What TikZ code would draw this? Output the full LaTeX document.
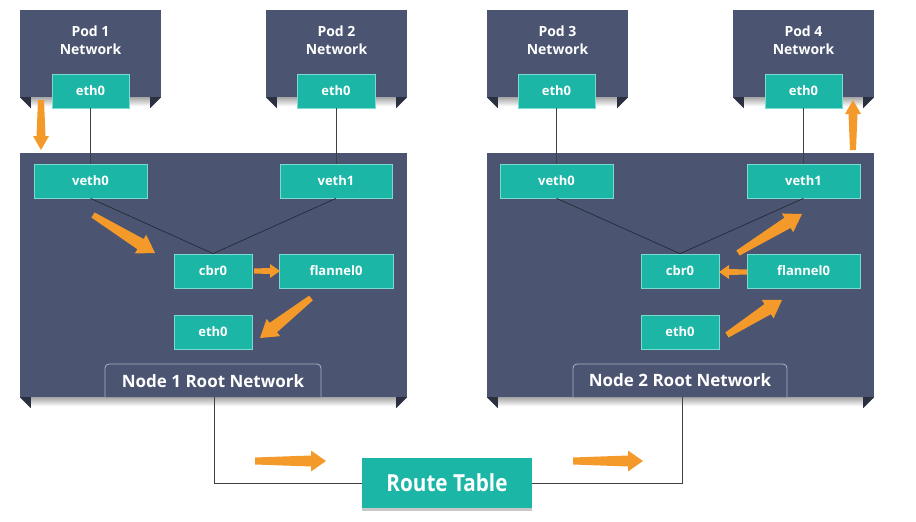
\documentclass[tikz,border=0pt]{standalone}
\usepackage{fontspec}
\setmainfont{Open Sans}
\newfontfamily\rtfont[FakeStretch=0.88]{Open Sans}
\usetikzlibrary{arrows.meta,calc}
\definecolor{slate}{HTML}{4B5470}
\definecolor{folddark}{HTML}{2B3040}
\definecolor{tealbox}{HTML}{1BB6A6}
\definecolor{tealedge}{HTML}{7ADCD0}
\definecolor{orng}{HTML}{F39A2B}
\definecolor{lbledge}{HTML}{AEB5C4}
\definecolor{wirecol}{HTML}{262B38}
\tikzset{
  panel/.style={fill=slate, draw=none, inner sep=0pt},
  iface/.style={fill=tealbox, draw=tealedge, line width=0.7pt, text=white,
    font=\bfseries\fontsize{13}{15}\selectfont, inner sep=0pt, minimum height=34pt},
  podtxt/.style={text=white, font=\bfseries\fontsize{14}{18}\selectfont, align=center},
  lbltxt/.style={text=white, font=\bfseries\fontsize{17}{19}\selectfont},
  wire/.style={draw=wirecol, line width=0.7pt},
  outwire/.style={draw=black!75, line width=0.9pt},
}
\newcommand\fatarrow[6]{%
  \coordinate (fa-c) at ($(#2)!#6!(#1)$);
  \fill[orng] ($(#1)!#3!90:(#2)$) -- ($(fa-c)!#4!90:(#2)$) -- ($(fa-c)!#5!90:(#2)$)
    -- (#2) -- ($(fa-c)!#5!-90:(#2)$) -- ($(fa-c)!#4!-90:(#2)$) -- ($(#1)!#3!-90:(#2)$) -- cycle;
}
\newcommand\folds[1]{%
  \shade[top color=black!35, bottom color=white] ([xshift=11pt]#1.south west) rectangle ([xshift=-11pt,yshift=-9pt]#1.south east);
  \fill[folddark] (#1.south west) -- ++(11,0) -- ++(0,11) -- cycle;
  \fill[folddark] (#1.south east) -- ++(-11,0) -- ++(0,11) -- cycle;
}
\begin{document}
\begin{tikzpicture}[x=1pt,y=-1pt]
\useasboundingbox[fill=white] (0,0) rectangle (916,522);

% ---- panels ----
\node[panel, minimum width=141pt, minimum height=87pt] (pod1) at (90.5,53.5) {};
\node[panel, minimum width=141pt, minimum height=87pt] (pod2) at (336.5,53.5) {};
\node[panel, minimum width=141pt, minimum height=87pt] (pod3) at (557.5,53.5) {};
\node[panel, minimum width=141pt, minimum height=87pt] (pod4) at (803.5,53.5) {};
\node[panel, minimum width=387pt, minimum height=244pt] (node1) at (213.5,275) {};
\node[panel, minimum width=387pt, minimum height=244pt] (node2) at (680.5,275) {};
\folds{pod1}\folds{pod2}\folds{pod3}\folds{pod4}\folds{node1}\folds{node2}

\node[podtxt] (pod1t) at (90.5,40) {Pod 1\\Network};
\node[podtxt] (pod2t) at (336.5,40) {Pod 2\\Network};
\node[podtxt] (pod3t) at (557.5,40) {Pod 3\\Network};
\node[podtxt] (pod4t) at (803.5,40) {Pod 4\\Network};

% ---- root network labels ----
\draw[lbledge, line width=0.8pt, fill=slate, rounded corners=4pt]
  (105,397) -- (105,364) -- (321,364) -- (321,397);
\draw[lbledge, line width=0.8pt, fill=slate, rounded corners=4pt]
  (573,397) -- (573,364) -- (787,364) -- (787,397);
\node[lbltxt] (n1lbl) at (213,381) {Node 1 Root Network};
\node[lbltxt] (n2lbl) at (680,380) {Node 2 Root Network};

% ---- interfaces ----
\node[iface, minimum width=77pt] (p1eth) at (90.5,91) {eth0};
\node[iface, minimum width=78pt] (p2eth) at (336,91) {eth0};
\node[iface, minimum width=77pt] (p3eth) at (556.5,91) {eth0};
\node[iface, minimum width=77pt] (p4eth) at (803.5,91) {eth0};

\node[iface, minimum width=113pt] (aveth0) at (90.5,181) {veth0};
\node[iface, minimum width=112pt] (aveth1) at (336,181) {veth1};
\node[iface, minimum width=78pt] (acbr) at (213,271) {cbr0};
\node[iface, minimum width=114pt] (aflan) at (336,271) {flannel0};
\node[iface, minimum width=78pt] (aeth) at (213,332) {eth0};

\node[iface, minimum width=113pt] (bveth0) at (556.5,181) {veth0};
\node[iface, minimum width=113pt] (bveth1) at (803.5,181) {veth1};
\node[iface, minimum width=78pt] (bcbr) at (680,271) {cbr0};
\node[iface, minimum width=113pt] (bflan) at (803.5,271) {flannel0};
\node[iface, minimum width=78pt] (beth) at (680,332) {eth0};

% ---- wires ----
\draw[outwire] (p1eth.south) -- (aveth0.north);
\draw[outwire] (p2eth.south) -- (aveth1.north);
\draw[outwire] (p3eth.south) -- (bveth0.north);
\draw[outwire] (p4eth.south) -- (bveth1.north);
\draw[wire] (aveth0.south) -- (acbr.north) -- (aveth1.south);
\draw[wire] (bveth0.south) -- (bcbr.north) -- (bveth1.south);

% ---- route table ----
\fill[black!22] (362,506) rectangle (532,511);
\node[fill=tealbox, text=white, minimum width=170pt, minimum height=50pt, inner sep=0pt,
  font=\rtfont\bfseries\fontsize{23.5}{25}\selectfont] (rt) at (447,483) {Route Table};
\coordinate (n1root) at (214,397);
\coordinate (n2root) at (682,397);
\draw[outwire] (n1root) |- (rt.west);
\draw[outwire] (rt.east) -| (n2root);

% ---- orange flow arrows ----
\coordinate (f1a) at (41,100);  \coordinate (f1b) at (41,150);
\coordinate (f2a) at (93,215);  \coordinate (f2b) at (155,253);
\coordinate (f3a) at (254,271); \coordinate (f3b) at (280,271);
\coordinate (f4a) at (311,298); \coordinate (f4b) at (260,338);
\coordinate (f5a) at (255,461); \coordinate (f5b) at (326,461);
\coordinate (f6a) at (573,461); \coordinate (f6b) at (643,461);
\coordinate (f7a) at (727,335); \coordinate (f7b) at (782,300);
\coordinate (f8a) at (747,272); \coordinate (f8b) at (719,272);
\coordinate (f9a) at (738,253); \coordinate (f9b) at (802,214);
\coordinate (f10a) at (853,150); \coordinate (f10b) at (853,100);
\fatarrow{f1a}{f1b}{3pt}{4.5pt}{8pt}{14pt}
\fatarrow{f2a}{f2b}{3pt}{6pt}{11pt}{17pt}
\fatarrow{f3a}{f3b}{2.5pt}{3pt}{7pt}{10pt}
\fatarrow{f4a}{f4b}{3pt}{6pt}{11pt}{17pt}
\fatarrow{f5a}{f5b}{3.5pt}{5.5pt}{10.5pt}{15pt}
\fatarrow{f6a}{f6b}{3.5pt}{5.5pt}{10.5pt}{15pt}
\fatarrow{f7a}{f7b}{3pt}{6pt}{11pt}{17pt}
\fatarrow{f8a}{f8b}{2.5pt}{3pt}{7pt}{10pt}
\fatarrow{f9a}{f9b}{3pt}{6pt}{11pt}{17pt}
\fatarrow{f10a}{f10b}{3pt}{4.5pt}{8pt}{14pt}
\end{tikzpicture}
\end{document}
